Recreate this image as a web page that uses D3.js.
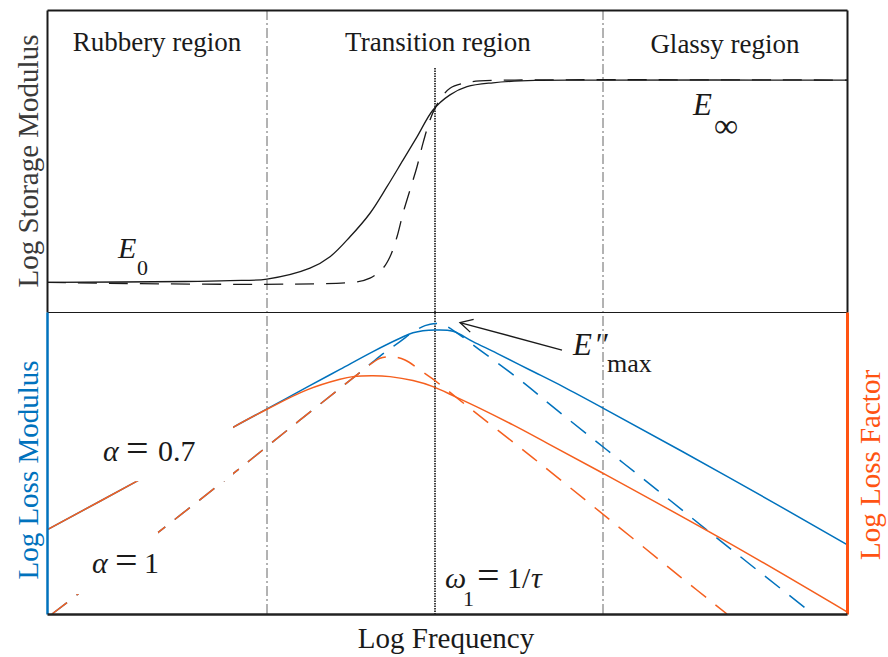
<!DOCTYPE html>
<html>
<head>
<meta charset="utf-8">
<script src="https://cdn.jsdelivr.net/npm/d3@7"></script>
<style>
  html, body { margin: 0; padding: 0; background: #fff; }
  svg { display: block; }
  text { font-family: "Liberation Serif", "Times New Roman", serif; }
</style>
</head>
<body>
<svg id="chart" width="888" height="657"></svg>
<script>
// ---------------- data (log frequency, log modulus / log loss factor) ----------------
const regionNames = ["Rubbery region", "Transition region", "Glassy region"];
const regionBounds = [-1.68, 1.68];   // rubbery | transition | glassy
const omega1 = 0;                      // log(1/tau)
const xDomain = [-3.88, 4.12];

// storage modulus, fractional model (alpha = 0.7)
const storageAlpha07 = [[-3.88,0.98],[-2.50,1.01],[-2.05,1.04],[-1.68,1.09],[-1.25,1.45],[-1.05,1.83],
  [-0.85,2.49],[-0.65,3.27],[-0.48,4.15],[-0.32,5.03],[-0.18,5.80],[-0.02,6.69],[0.15,7.19],
  [0.32,7.46],[0.58,7.59],[1.00,7.67],[1.65,7.68],[4.12,7.68]];
// storage modulus, standard model (alpha = 1)
const storageAlpha1 = [[-3.88,0.98],[-0.80,0.99],[-0.65,1.12],[-0.52,1.45],[-0.45,1.83],[-0.38,2.49],
  [-0.32,3.27],[-0.25,4.04],[-0.18,4.81],[-0.12,5.59],[-0.05,6.36],[0.00,6.75],[0.07,7.13],
  [0.15,7.41],[0.28,7.57],[0.45,7.65],[0.80,7.68],[4.12,7.68]];

// loss modulus (blue) and loss factor (orange), alpha = 0.7
const lossModAlpha07 = [[-3.88,2.79],[-2.98,4.40],[-2.02,6.18],[-1.68,6.79],[-1.28,7.51],[-0.95,8.10],
  [-0.62,8.69],[-0.35,9.13],[-0.22,9.31],[0.00,9.40],[0.18,9.36],[0.38,9.02],[0.62,8.63],
  [0.95,8.08],[1.28,7.53],[1.68,6.82],[2.92,4.56],[4.12,2.30]];
const lossFactorAlpha07 = [[-3.88,2.79],[-2.98,4.40],[-2.02,6.18],[-1.68,6.78],[-1.28,7.42],[-0.95,7.77],
  [-0.82,7.86],[-0.62,7.89],[-0.45,7.86],[-0.22,7.73],[-0.02,7.53],[0.20,7.20],[0.45,6.81],
  [0.78,6.26],[1.12,5.66],[1.68,4.66],[2.92,2.39],[4.12,0.07]];

// alpha = 1: common low-frequency branch, then separate peaks
const lossRiseAlpha1 = [[-3.83,0.00],[-2.80,2.62],[-1.87,5.04],[-1.37,6.37],[-0.97,7.42],[-0.72,8.08]];
const lossModAlpha1Tail = [[-0.62,8.35],[-0.47,8.74],[-0.35,9.02],[-0.20,9.38],[-0.10,9.55],[0.00,9.62],
  [0.08,9.59],[0.20,9.35],[0.45,8.74],[0.85,7.75],[1.22,6.75],[1.72,5.43],[2.22,4.11],
  [2.72,2.78],[3.22,1.46],[3.78,0.00]];
const lossFactorAlpha1Tail = [[-0.62,8.33],[-0.55,8.47],[-0.43,8.52],[-0.30,8.41],[-0.15,8.08],
  [-0.03,7.80],[0.12,7.42],[0.35,6.81],[0.98,5.17],[1.70,3.25],[2.45,1.24],[2.92,0.00]];
const lossModAlpha1 = lossRiseAlpha1.concat(lossModAlpha1Tail);
const lossFactorAlpha1 = lossRiseAlpha1.concat(lossFactorAlpha1Tail);

// E''max annotation: arrow tip and tail
const peakArrow = { tip: [0.25, 9.65], tail: [1.27, 8.74] };

// ---------------- layout ----------------
const W = 888, H = 657;
const padL = 47, padR = 847, panelTop = 10, panelMid = 312, panelBottom = 614;
const BLUE = "#0072BD", ORANGE = "#F55F1E", ORANGE_AXIS = "#FF5312", INK = "#1a1a1a";
const DASH = "19,12";

const x = d3.scaleLinear().domain(xDomain).range([padL, padR]);
const yTop = d3.scaleLinear().domain([0, 10]).range([panelMid, panelTop]);
const yLoss = d3.scaleLinear().domain([0, 10]).range([panelBottom, panelMid]);
const yFactor = d3.scaleLinear().domain([0, 10]).range([panelBottom, panelMid]);

const svg = d3.select("#chart");
svg.append("rect").attr("width", W).attr("height", H).attr("fill", "#fff");

const defs = svg.append("defs");
defs.append("clipPath").attr("id", "clipTop").append("rect")
  .attr("x", padL).attr("y", panelTop).attr("width", padR - padL).attr("height", panelMid - panelTop);
defs.append("clipPath").attr("id", "clipBottom").append("rect")
  .attr("x", padL).attr("y", panelMid).attr("width", padR - padL).attr("height", panelBottom - panelMid);

const curve = (ys) => d3.line().x(d => x(d[0])).y(d => ys(d[1])).curve(d3.curveCatmullRom.alpha(0.5));

// ---- region boundaries and the relaxation frequency ----
const guides = svg.append("g");
regionBounds.forEach(b => {
  guides.append("line")
    .attr("x1", x(b)).attr("x2", x(b)).attr("y1", panelTop).attr("y2", panelBottom)
    .attr("stroke", "#666").attr("stroke-width", 1).attr("stroke-dasharray", "10,3,2,3");
});
guides.append("line")
  .attr("x1", x(omega1)).attr("x2", x(omega1)).attr("y1", yTop(8.08)).attr("y2", panelBottom)
  .attr("stroke", "#222").attr("stroke-width", 1.7).attr("stroke-dasharray", "1.5,1");

// ---- storage modulus panel ----
const gTop = svg.append("g").attr("clip-path", "url(#clipTop)");
gTop.append("path").datum(storageAlpha1).attr("d", curve(yTop))
  .attr("fill", "none").attr("stroke", INK).attr("stroke-width", 1.3).attr("stroke-dasharray", DASH);
gTop.append("path").datum(storageAlpha07).attr("d", curve(yTop))
  .attr("fill", "none").attr("stroke", INK).attr("stroke-width", 1.3);

// ---- loss panel ----
const gBot = svg.append("g").attr("clip-path", "url(#clipBottom)");
gBot.append("path").datum(lossModAlpha1).attr("d", curve(yLoss))
  .attr("fill", "none").attr("stroke", BLUE).attr("stroke-width", 1.5).attr("stroke-dasharray", DASH);
gBot.append("path").datum(lossModAlpha07).attr("d", curve(yLoss))
  .attr("fill", "none").attr("stroke", BLUE).attr("stroke-width", 1.5);
gBot.append("path").datum(lossFactorAlpha1).attr("d", curve(yFactor))
  .attr("fill", "none").attr("stroke", ORANGE).attr("stroke-width", 1.5).attr("stroke-dasharray", DASH);
gBot.append("path").datum(lossFactorAlpha07).attr("d", curve(yFactor))
  .attr("fill", "none").attr("stroke", ORANGE).attr("stroke-width", 1.5);

// ---- math label helper ----
function mathLabel(px, py, parts, color) {
  const g = svg.append("g").attr("transform", `translate(${px},${py})`);
  parts.forEach(p => {
    g.append("text")
      .attr("x", p.dx || 0).attr("y", p.dy || 0)
      .attr("font-size", p.size || 30)
      .attr("font-style", p.italic ? "italic" : "normal")
      .attr("fill", color || INK)
      .text(p.t);
  });
  return g;
}

// white boxes that interrupt the low-frequency branches behind the alpha labels
svg.append("rect").attr("x", x(-3.40)).attr("y", yLoss(6.26))
  .attr("width", x(-2.02) - x(-3.40)).attr("height", yLoss(4.40) - yLoss(6.26)).attr("fill", "#fff");
svg.append("rect").attr("x", x(-3.60)).attr("y", yLoss(2.72))
  .attr("width", x(-2.77) - x(-3.60)).attr("height", yLoss(0.66) - yLoss(2.72)).attr("fill", "#fff");

mathLabel(x(-3.32), yLoss(5.07), [
  { t: "\u03B1", italic: true },
  { t: "=", dx: 23, dy: 1, size: 40 },
  { t: "0.7", dx: 55 }
]);
mathLabel(x(-3.43), yLoss(1.35), [
  { t: "\u03B1", italic: true },
  { t: "=", dx: 23, dy: 1, size: 40 },
  { t: "1", dx: 52 }
]);
mathLabel(x(0.10), yLoss(0.85), [
  { t: "\u03C9", italic: true },
  { t: "1", dx: 18, dy: 18, size: 22 },
  { t: "=", dx: 32, dy: 1, size: 40 },
  { t: "1/", dx: 62 },
  { t: "\u03C4", dx: 86, italic: true }
]);

// storage modulus limits
mathLabel(x(-3.17), yTop(1.79), [
  { t: "E", italic: true },
  { t: "0", dx: 19, dy: 17, size: 22 }
]);
mathLabel(x(2.58), yTop(6.52), [
  { t: "E", italic: true, size: 31 },
  { t: "\u221E", dx: 21, dy: 22, size: 34 }
]);

// E''max with arrow
const tip = [x(peakArrow.tip[0]), yLoss(peakArrow.tip[1])];
const tail = [x(peakArrow.tail[0]), yLoss(peakArrow.tail[1])];
svg.append("line").attr("x1", tail[0]).attr("y1", tail[1]).attr("x2", tip[0]).attr("y2", tip[1])
  .attr("stroke", INK).attr("stroke-width", 1.3);
{
  const ang = Math.atan2(tail[1] - tip[1], tail[0] - tip[0]);
  const len = 14, spread = 28 * Math.PI / 180;
  const a1 = [tip[0] + len * Math.cos(ang - spread), tip[1] + len * Math.sin(ang - spread)];
  const a2 = [tip[0] + len * Math.cos(ang + spread), tip[1] + len * Math.sin(ang + spread)];
  svg.append("path").attr("d", `M${a1[0]},${a1[1]}L${tip[0]},${tip[1]}L${a2[0]},${a2[1]}`)
    .attr("fill", "none").attr("stroke", INK).attr("stroke-width", 1.3);
}
mathLabel(x(1.38), yLoss(8.58), [
  { t: "E", italic: true, size: 31 },
  { t: "\u2032\u2032", dx: 21, dy: 0, size: 31, italic: true },
  { t: "max", dx: 34, dy: 17, size: 26 }
]);

// ---- region names ----
const regionEdges = [xDomain[0], regionBounds[0], regionBounds[1], xDomain[1]];
regionNames.forEach((name, i) => {
  svg.append("text")
    .attr("x", x((regionEdges[i] + regionEdges[i + 1]) / 2) + (i === 1 ? 3 : 0))
    .attr("y", i === 2 ? 53 : 51)
    .attr("text-anchor", "middle").attr("font-size", 27).attr("fill", INK)
    .text(name);
});

// ---- axes (no ticks, just the frame lines) ----
const styleDomain = (g, color, width) =>
  g.select(".domain").attr("stroke", color).attr("stroke-width", width);

svg.append("g").attr("transform", `translate(${padL},0)`)
  .call(d3.axisLeft(yTop).tickValues([]).tickSizeOuter(0))
  .call(g => styleDomain(g, INK, 2));
svg.append("g").attr("transform", `translate(${padR},0)`)
  .call(d3.axisRight(yTop).tickValues([]).tickSizeOuter(0))
  .call(g => styleDomain(g, INK, 2));
svg.append("g").attr("transform", `translate(0,${panelTop})`)
  .call(d3.axisTop(x).tickValues([]).tickSizeOuter(0))
  .call(g => styleDomain(g, INK, 2));
svg.append("g").attr("transform", `translate(0,${panelMid})`)
  .call(d3.axisBottom(x).tickValues([]).tickSizeOuter(0))
  .call(g => styleDomain(g, INK, 1.2));
svg.append("g").attr("transform", `translate(${padL},0)`)
  .call(d3.axisLeft(yLoss).tickValues([]).tickSizeOuter(0))
  .call(g => styleDomain(g, BLUE, 2.5));
svg.append("g").attr("transform", `translate(${padR},0)`)
  .call(d3.axisRight(yFactor).tickValues([]).tickSizeOuter(0))
  .call(g => styleDomain(g, ORANGE_AXIS, 3));
svg.append("g").attr("transform", `translate(0,${panelBottom})`)
  .call(d3.axisBottom(x).tickValues([]).tickSizeOuter(0))
  .call(g => styleDomain(g, "#222", 2.5));

// ---- axis titles ----
svg.append("text").attr("x", 446).attr("y", 648).attr("text-anchor", "middle")
  .attr("font-size", 29).attr("fill", INK).text("Log Frequency");
svg.append("text").attr("transform", `translate(38,${(panelTop + panelMid) / 2}) rotate(-90)`)
  .attr("text-anchor", "middle").attr("font-size", 29).attr("fill", "#3a3a3a")
  .text("Log Storage Modulus");
svg.append("text").attr("transform", `translate(38,470) rotate(-90)`)
  .attr("text-anchor", "middle").attr("font-size", 29).attr("fill", BLUE)
  .text("Log Loss Modulus");
svg.append("text").attr("transform", `translate(880,465) rotate(-90)`)
  .attr("text-anchor", "middle").attr("font-size", 29).attr("fill", ORANGE_AXIS)
  .text("Log Loss Factor");
</script>
</body>
</html>
